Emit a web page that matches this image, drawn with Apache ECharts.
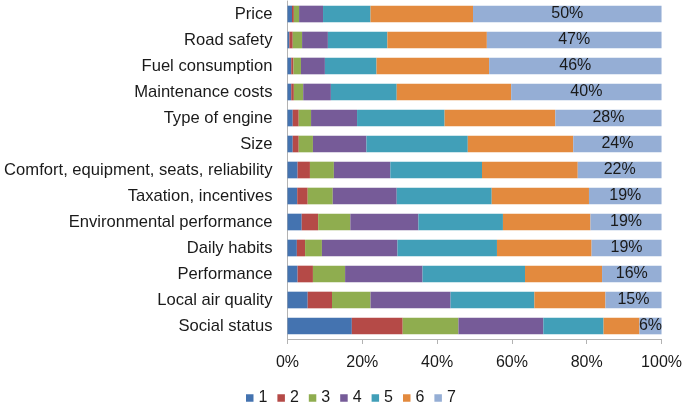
<!DOCTYPE html>
<html>
<head>
<meta charset="utf-8">
<script src="https://cdn.jsdelivr.net/npm/echarts@6/dist/echarts.min.js"></script>
<style>
html,body{margin:0;padding:0;background:#fff;}
#chart{width:685px;height:407px;}
</style>
</head>
<body>
<div id="chart"></div>
<script>
var categories = ["Price","Road safety","Fuel consumption","Maintenance costs","Type of engine","Size","Comfort, equipment, seats, reliability","Taxation, incentives","Environmental performance","Daily habits","Performance","Local air quality","Social status"];
var seriesNames = ["1","2","3","4","5","6","7"];
var s1 = [1.2,0.5,1.0,1.0,1.4,1.4,2.7,2.6,3.8,2.5,2.7,5.4,17.2];
var s2 = [0.5,0.9,0.6,0.7,1.6,1.6,3.3,2.8,4.4,2.2,4.1,6.5,13.6];
var s3 = [1.4,2.5,2.0,2.5,3.3,3.8,6.4,6.7,8.6,4.5,8.6,10.3,14.9];
var s4 = [6.4,6.9,6.4,7.4,12.3,14.3,15.1,17.1,18.2,20.2,20.7,21.4,22.7];
var s5 = [12.7,15.9,13.8,17.6,23.4,27.1,24.5,25.4,22.6,26.6,27.4,22.4,16.1];
var s6 = [27.4,26.6,30.1,30.6,29.6,28.2,25.6,26.0,23.4,25.3,20.6,19.0,9.6];
var s7 = [50.4,46.7,46.1,40.2,28.4,23.6,22.4,19.4,19.0,18.7,15.9,15.0,5.9];
var xTicks = [0,20,40,60,80,100];
var colors = ["#4473b0","#b54a47","#8fad4f","#765b98","#419fb8","#e38a3e","#95aed5"];

var allData = [s1,s2,s3,s4,s5,s6,s7];
var font = "'Liberation Sans', Arial, sans-serif";
var series = allData.map(function(d,i){
  var s = {
    name: seriesNames[i], type:'bar', stack:'total', data:d,
    barCategoryGap:'36%',
    itemStyle:{color:colors[i]},
    emphasis:{disabled:true}
  };
  if(i===6){
    s.label = {show:true, position:'inside', color:'#1a1a1a', fontSize:16, fontFamily:font,
      formatter:function(p){return Math.round(p.value)+'%';}};
  }
  return s;
});

var chart = echarts.init(document.getElementById('chart'), null, {renderer:'canvas'});
chart.setOption({
  animation:false,
  color:colors,
  textStyle:{fontFamily:font},
  grid:{left:287.5, right:21.7, top:1, bottom:68, containLabel:false},
  legend:{
    data:seriesNames, top:390, left:246, padding:0,
    icon:'rect', itemWidth:7.5, itemHeight:7.5, itemGap:10,
    textStyle:{fontSize:16, color:'#1a1a1a', fontFamily:font}
  },
  xAxis:{
    type:'value', min:xTicks[0], max:xTicks[xTicks.length-1], interval:20,
    axisLine:{show:true, lineStyle:{color:'#b3b3b3'}},
    axisTick:{show:true, length:5, lineStyle:{color:'#b3b3b3'}},
    splitLine:{show:false},
    axisLabel:{fontSize:16, color:'#1a1a1a', margin:16, formatter:'{value}%', fontFamily:font}
  },
  yAxis:{
    type:'category', data:categories, inverse:true,
    axisLine:{show:true, lineStyle:{color:'#b3b3b3'}},
    axisTick:{show:false},
    axisLabel:{fontSize:16.6, color:'#1a1a1a', margin:15, fontFamily:font}
  },
  series:series
});
</script>
</body>
</html>
